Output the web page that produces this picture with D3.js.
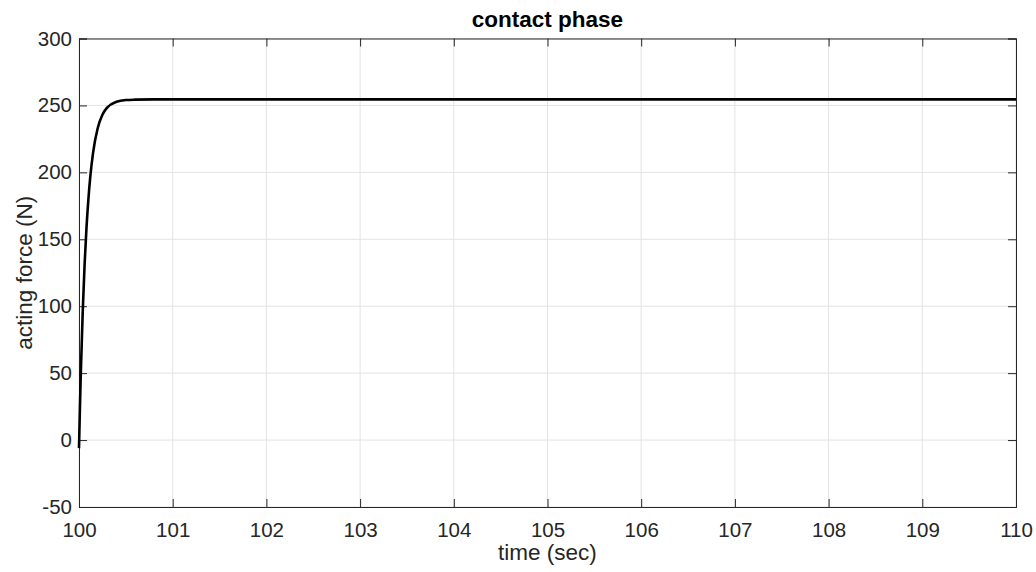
<!DOCTYPE html>
<html>
<head>
<meta charset="utf-8">
<script src="https://cdn.jsdelivr.net/npm/d3@7"></script>
<style>
  body { margin: 0; background: #fff; }
  text { font-family: "Liberation Sans", Arial, sans-serif; fill: #262626; }
</style>
</head>
<body>
<script>
const width = 1036;
const height = 572;

// data
const timeSec = [100, 100.01, 100.02, 100.04, 100.06, 100.08, 100.1, 100.12, 100.15, 100.2, 100.25, 100.3, 100.4, 100.5, 100.6, 100.8, 101, 105, 110];
const forceN = [-6, 24.6, 51.6, 96.4, 131.5, 158.7, 179.7, 196.4, 214.6, 233.1, 243.0, 248.4, 252.7, 254.0, 254.3, 254.5, 254.5, 254.5, 254.5];
const xTicks = [100, 101, 102, 103, 104, 105, 106, 107, 108, 109, 110];
const yTicks = [-50, 0, 50, 100, 150, 200, 250, 300];

const plotLeft = 79, plotRight = 1016, plotTop = 38.5, plotBottom = 507;

const svg = d3.select("body")
    .append("svg")
    .attr("width", width)
    .attr("height", height);

const x = d3.scaleLinear().domain([100, 110]).range([plotLeft, plotRight]);
const y = d3.scaleLinear().domain([-50, 300]).range([plotBottom, plotTop]);

// grid
svg.append("g").selectAll("line")
    .data(xTicks)
    .enter().append("line")
    .attr("x1", d => x(d)).attr("x2", d => x(d))
    .attr("y1", plotTop).attr("y2", plotBottom)
    .attr("stroke", "#e3e3e3").attr("stroke-width", 1);
svg.append("g").selectAll("line")
    .data(yTicks)
    .enter().append("line")
    .attr("x1", plotLeft).attr("x2", plotRight)
    .attr("y1", d => y(d)).attr("y2", d => y(d))
    .attr("stroke", "#e3e3e3").attr("stroke-width", 1);

// axes (hyphen minus like matlab)
const tickLen = 8;
const fmt = d => String(d);
const xAxis = d3.axisBottom(x).tickValues(xTicks).tickSize(-tickLen).tickPadding(15).tickFormat(fmt);
const yAxis = d3.axisLeft(y).tickValues(yTicks).tickSize(-tickLen).tickPadding(7).tickFormat(fmt);
const xTop = d3.axisTop(x).tickValues(xTicks).tickSize(-tickLen).tickFormat("");
const yRight = d3.axisRight(y).tickValues(yTicks).tickSize(-tickLen).tickFormat("");

function style(g) {
    g.selectAll("path, line").attr("stroke", "#262626").attr("stroke-width", 1);
    g.selectAll("text").attr("font-size", 20.5).attr("fill", "#262626")
        .style("font-family", "'Liberation Sans', Arial, sans-serif");
}

svg.append("g").attr("transform", `translate(0,${plotBottom})`).call(xAxis).call(style);
svg.append("g").attr("transform", `translate(${plotLeft},0)`).call(yAxis).call(style);
svg.append("g").attr("transform", `translate(0,${plotTop})`).call(xTop).call(style);
svg.append("g").attr("transform", `translate(${plotRight},0)`).call(yRight).call(style);

// curve
const line = d3.line()
    .x((d, i) => x(timeSec[i]))
    .y(d => y(d))
    .curve(d3.curveMonotoneX);

svg.append("path")
    .datum(forceN)
    .attr("fill", "none")
    .attr("stroke", "#000")
    .attr("stroke-width", 2.6)
    .attr("d", line);

// labels
svg.append("text")
    .attr("x", (plotLeft + plotRight) / 2).attr("y", 27)
    .attr("text-anchor", "middle")
    .attr("font-size", 22.5).attr("font-weight", "bold")
    .attr("fill", "#000")
    .style("fill", "#000")
    .text("contact phase");

svg.append("text")
    .attr("x", (plotLeft + plotRight) / 2).attr("y", 560)
    .attr("text-anchor", "middle")
    .attr("font-size", 22.5)
    .text("time (sec)");

svg.append("text")
    .attr("transform", `translate(31.5,${(plotTop + plotBottom) / 2}) rotate(-90)`)
    .attr("text-anchor", "middle")
    .attr("font-size", 22.5)
    .text("acting force (N)");
</script>
</body>
</html>
